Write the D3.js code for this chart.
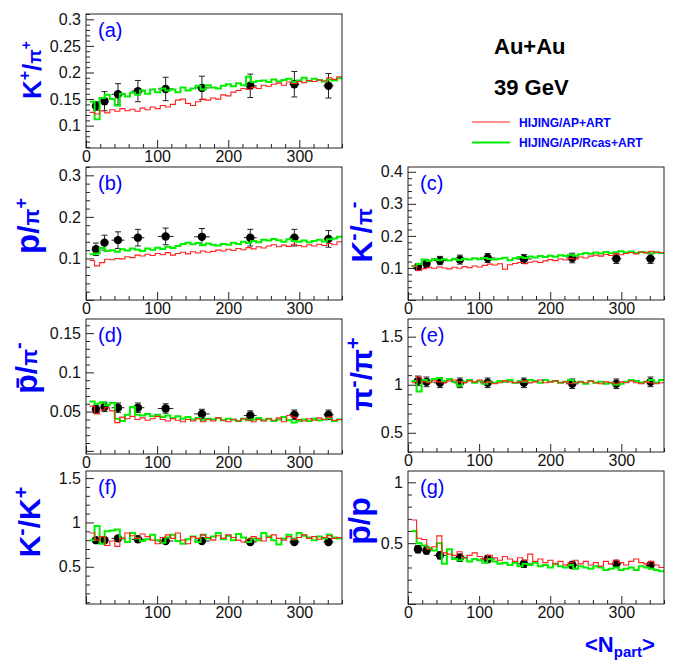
<!DOCTYPE html>
<html>
<head>
<meta charset="utf-8">
<script src="https://cdn.jsdelivr.net/npm/d3@7"></script>
<style>
  body { margin: 0; background: #fff; }
  svg { font-family: "Liberation Sans", Arial, sans-serif; }
</style>
</head>
<body>
<div class="container"></div>
<script>
// <Npart> of the measured points and their horizontal errors
const npart = [14, 26, 45, 73, 112, 163, 231, 293, 341];
const npartErr = [4, 5, 9, 9, 11, 11, 9, 7, 7];

// measured ratios (points) and their errors
const kpPipData = [0.137, 0.146, 0.159, 0.165, 0.169, 0.171, 0.175, 0.178, 0.175];
const kpPipErr = [0.008, 0.018, 0.02, 0.02, 0.022, 0.022, 0.022, 0.024, 0.023];
const pPipData = [0.122, 0.138, 0.144, 0.150, 0.153, 0.152, 0.150, 0.150, 0.147];
const pPipErr = [0.015, 0.018, 0.02, 0.02, 0.02, 0.02, 0.02, 0.02, 0.02];
const kmPimData = [0.103, 0.113, 0.123, 0.126, 0.131, 0.128, 0.131, 0.129, 0.129];
const kmPimErr = [0.01, 0.012, 0.013, 0.014, 0.014, 0.014, 0.015, 0.015, 0.015];
const pbarPimData = [0.053, 0.056, 0.055, 0.055, 0.054, 0.047, 0.045, 0.046, 0.046];
const pbarPimErr = [0.005, 0.006, 0.006, 0.006, 0.006, 0.006, 0.006, 0.006, 0.006];
const pimPipData = [1.04, 1.03, 1.02, 1.02, 1.02, 1.02, 1.01, 1.01, 1.03];
const pimPipErr = [0.05, 0.05, 0.05, 0.05, 0.05, 0.05, 0.05, 0.05, 0.05];
const kmKpData = [0.80, 0.80, 0.82, 0.81, 0.79, 0.79, 0.78, 0.78, 0.78];
const kmKpErr = [0.02, 0.02, 0.02, 0.02, 0.02, 0.02, 0.02, 0.02, 0.02];
const pbarPData = [0.45, 0.44, 0.40, 0.38, 0.37, 0.33, 0.32, 0.33, 0.32];
const pbarPErr = [0.03, 0.03, 0.03, 0.03, 0.03, 0.03, 0.03, 0.03, 0.02];

// model histograms, 50 bins in <Npart> starting at 5
const binLow = 5;
const binWidth = 7.1;

const kpPipArt = [0.125,0.122,0.128,0.124,0.130,0.127,0.132,0.128,0.131,0.127,
  0.133,0.130,0.135,0.132,0.138,0.135,0.140,0.148,0.150,0.142,
  0.138,0.145,0.150,0.148,0.152,0.150,0.158,0.156,0.163,0.166,
  0.170,0.168,0.172,0.170,0.176,0.174,0.178,0.180,0.176,0.182,
  0.179,0.183,0.181,0.185,0.183,0.186,0.184,0.190,0.187,0.192];
const kpPipRcas = [0.145,0.112,0.152,0.158,0.150,0.138,0.160,0.155,0.162,0.158,
  0.166,0.160,0.168,0.163,0.170,0.166,0.168,0.163,0.172,0.166,
  0.170,0.175,0.168,0.176,0.172,0.170,0.175,0.178,0.174,0.180,
  0.176,0.192,0.182,0.184,0.185,0.182,0.187,0.183,0.186,0.188,
  0.182,0.185,0.190,0.184,0.188,0.186,0.183,0.187,0.185,0.189];

const pPipArt = [0.095,0.082,0.090,0.098,0.097,0.100,0.099,0.104,0.102,0.108,
  0.106,0.110,0.107,0.112,0.109,0.114,0.108,0.112,0.115,0.111,
  0.116,0.113,0.118,0.115,0.117,0.120,0.118,0.122,0.119,0.124,
  0.121,0.126,0.123,0.128,0.125,0.130,0.133,0.128,0.132,0.129,
  0.134,0.131,0.128,0.133,0.130,0.134,0.131,0.136,0.133,0.140];
const pPipRcas = [0.110,0.112,0.125,0.118,0.120,0.116,0.122,0.119,0.124,0.121,
  0.118,0.124,0.121,0.126,0.123,0.128,0.125,0.130,0.135,0.138,
  0.134,0.137,0.132,0.136,0.133,0.131,0.135,0.133,0.138,0.135,
  0.140,0.137,0.142,0.139,0.145,0.143,0.147,0.144,0.140,0.146,
  0.142,0.140,0.143,0.139,0.142,0.145,0.141,0.146,0.148,0.152];

const kmPimArt = [0.106,0.092,0.098,0.102,0.099,0.103,0.100,0.097,0.102,0.099,
  0.104,0.101,0.106,0.103,0.108,0.112,0.109,0.113,0.096,0.110,
  0.114,0.117,0.113,0.118,0.121,0.117,0.122,0.126,0.123,0.128,
  0.125,0.130,0.128,0.134,0.131,0.137,0.140,0.137,0.142,0.139,
  0.144,0.141,0.145,0.148,0.144,0.150,0.147,0.152,0.149,0.148];
const kmPimRcas = [0.105,0.112,0.126,0.122,0.128,0.124,0.127,0.123,0.129,0.125,
  0.128,0.126,0.130,0.127,0.131,0.128,0.126,0.129,0.132,0.124,
  0.130,0.134,0.131,0.136,0.133,0.137,0.134,0.138,0.135,0.140,
  0.137,0.141,0.138,0.143,0.147,0.144,0.148,0.145,0.150,0.146,
  0.149,0.152,0.148,0.151,0.147,0.150,0.148,0.146,0.149,0.147];

const pbarPimArt = [0.057,0.047,0.052,0.055,0.051,0.036,0.043,0.041,0.044,0.040,
  0.042,0.039,0.041,0.044,0.040,0.038,0.041,0.039,0.037,0.040,
  0.038,0.041,0.037,0.040,0.038,0.042,0.039,0.037,0.040,0.038,
  0.041,0.039,0.037,0.040,0.038,0.041,0.039,0.042,0.037,0.045,
  0.043,0.040,0.038,0.041,0.039,0.042,0.040,0.043,0.039,0.040];
const pbarPimRcas = [0.063,0.060,0.062,0.058,0.061,0.041,0.038,0.046,0.056,0.046,
  0.045,0.047,0.044,0.046,0.043,0.045,0.042,0.044,0.041,0.043,
  0.040,0.042,0.039,0.041,0.040,0.042,0.039,0.041,0.040,0.038,
  0.041,0.039,0.040,0.042,0.039,0.041,0.038,0.040,0.043,0.039,
  0.036,0.038,0.040,0.038,0.041,0.039,0.040,0.042,0.038,0.040];

const pimPipArt = [1.02,1.08,1.03,1.02,1.04,1.03,1.02,1.04,1.05,1.03,
  1.02,1.04,1.03,1.05,1.02,1.03,1.01,1.02,1.04,1.03,
  1.02,1.03,1.04,1.02,1.03,1.05,1.02,1.03,1.04,1.02,
  1.03,1.01,1.02,1.03,1.02,1.04,1.02,1.01,1.03,1.02,
  1.01,1.03,1.02,1.04,1.02,1.01,1.03,1.02,1.01,1.02];
const pimPipRcas = [1.04,0.93,1.05,1.03,1.06,1.07,1.04,1.06,1.03,0.99,
  1.03,1.05,1.02,1.04,1.01,1.03,1.02,1.04,1.03,1.05,
  1.02,1.04,1.03,1.05,1.04,1.02,1.05,1.03,1.04,1.02,
  1.03,1.05,1.02,1.03,1.01,1.04,1.02,1.03,1.01,1.02,
  1.00,1.01,1.03,1.05,1.04,1.02,1.03,1.05,1.02,1.05];

const kmKpArt = [0.88,0.80,0.84,0.74,0.79,0.73,0.82,0.88,0.85,0.82,
  0.87,0.84,0.80,0.76,0.83,0.86,0.82,0.88,0.80,0.76,
  0.84,0.82,0.86,0.83,0.80,0.85,0.82,0.86,0.83,0.80,
  0.78,0.81,0.84,0.82,0.79,0.83,0.86,0.82,0.80,0.84,
  0.81,0.83,0.86,0.82,0.84,0.81,0.83,0.85,0.82,0.83];
const kmKpRcas = [0.80,0.96,0.76,0.90,0.91,0.92,0.82,0.78,0.88,0.82,
  0.79,0.81,0.86,0.80,0.77,0.83,0.86,0.79,0.76,0.81,
  0.84,0.78,0.86,0.82,0.84,0.88,0.81,0.85,0.80,0.87,
  0.83,0.78,0.82,0.80,0.88,0.84,0.80,0.75,0.82,0.86,
  0.81,0.88,0.85,0.83,0.80,0.84,0.82,0.86,0.83,0.82];

const pbarPArt = [0.69,0.54,0.53,0.45,0.47,0.56,0.42,0.41,0.40,0.43,
  0.38,0.40,0.42,0.39,0.37,0.40,0.38,0.36,0.39,0.37,
  0.35,0.38,0.36,0.41,0.35,0.37,0.34,0.36,0.33,0.35,
  0.32,0.34,0.36,0.33,0.35,0.32,0.34,0.31,0.35,0.33,
  0.36,0.34,0.32,0.35,0.37,0.34,0.33,0.35,0.32,0.30];
const pbarPRcas = [0.60,0.50,0.48,0.46,0.44,0.50,0.33,0.45,0.37,0.36,
  0.38,0.35,0.37,0.36,0.34,0.37,0.35,0.33,0.34,0.32,
  0.34,0.31,0.33,0.32,0.34,0.31,0.32,0.30,0.33,0.31,
  0.30,0.32,0.29,0.31,0.30,0.29,0.31,0.30,0.28,0.29,
  0.30,0.28,0.29,0.30,0.28,0.31,0.30,0.29,0.28,0.27];

const legendLabels = ['HIJING/AP+ART', 'HIJING/AP/Rcas+ART'];

const blue = '#0000ff';
const artColor = '#ff2020';
const rcasColor = '#00f000';

// title pieces: [text, font size, rise]; p\u0304 is p-bar
const panels = [
  { id: 'a', left: 86, top: 14, h: 134, ydom: [0.058, 0.31], major: 0.05, minor: 0.01,
    data: kpPipData, err: kpPipErr, art: kpPipArt, rcas: kpPipRcas, tx: 41, ty: 70,
    title: [['K', 26, 0], ['+', 16, -11], ['/', 26, 0], ['\u03c0', 19, 0], ['+', 14, -10]] },
  { id: 'b', left: 86, top: 167, h: 133, ydom: [0, 0.32], major: 0.1, minor: 0.02,
    data: pPipData, err: pPipErr, art: pPipArt, rcas: pPipRcas, tx: 39, ty: 226,
    title: [['p', 33, 0], ['/', 30, 0], ['\u03c0', 22, 0], ['+', 18, -12]] },
  { id: 'c', left: 408, top: 167, h: 133, ydom: [0, 0.415], major: 0.1, minor: 0.02,
    data: kmPimData, err: kmPimErr, art: kmPimArt, rcas: kmPimRcas, tx: 372, ty: 232,
    title: [['K', 30, 0], ['-', 22, -12], ['/', 30, 0], ['\u03c0', 22, 0], ['-', 20, -12]] },
  { id: 'd', left: 86, top: 319, h: 135, ydom: [-0.004, 0.168], major: 0.05, minor: 0.01,
    data: pbarPimData, err: pbarPimErr, art: pbarPimArt, rcas: pbarPimRcas, tx: 37, ty: 368,
    title: [['p\u0304', 32, 0], ['/', 30, 0], ['\u03c0', 22, 0], ['-', 20, -12]] },
  { id: 'e', left: 408, top: 319, h: 133, ydom: [0.3, 1.684], major: 0.5, minor: 0.1,
    data: pimPipData, err: pimPipErr, art: pimPipArt, rcas: pimPipRcas, tx: 372, ty: 374,
    title: [['\u03c0', 30, 0], ['-', 22, -12], ['/', 30, 0], ['\u03c0', 30, 0], ['+', 20, -12]] },
  { id: 'f', left: 86, top: 471, h: 133, ydom: [0.08, 1.58], major: 0.5, minor: 0.1,
    data: kmKpData, err: kmKpErr, art: kmKpArt, rcas: kmKpRcas, tx: 40, ty: 522, noZero: true,
    title: [['K', 30, 0], ['-', 22, -12], ['/', 30, 0], ['K', 30, 0], ['+', 20, -12]] },
  { id: 'g', left: 408, top: 471, h: 133, ydom: [0, 1.093], major: 0.5, minor: 0.1,
    data: pbarPData, err: pbarPErr, art: pbarPArt, rcas: pbarPRcas, tx: 370, ty: 521,
    title: [['p\u0304', 32, 0], ['/', 30, 0], ['p', 32, 0]] },
];

const W = 683, H = 663, pw = 256;

const svg = d3.select('.container').append('svg')
  .attr('width', W)
  .attr('height', H);
svg.append('rect').attr('width', W).attr('height', H).attr('fill', '#fff');

const fmt = d => (Math.abs(d) < 1e-6 ? '' : String(+d.toFixed(3)));
const steps = (lo, hi, step) => d3.range(Math.ceil(lo / step - 1e-6), Math.floor(hi / step + 1e-6) + 1)
  .map(i => +(i * step).toFixed(4));

panels.forEach((p) => {
  const x = d3.scaleLinear().domain([0, 360]).range([0, pw]);
  const y = d3.scaleLinear().domain(p.ydom).range([p.h, 0]);

  const g = svg.append('g').attr('transform', `translate(${p.left},${p.top})`);

  g.append('clipPath').attr('id', `clip-${p.id}`)
    .append('rect').attr('width', pw).attr('height', p.h);

  // minor ticks then major ticks, pointing into the frame
  const yMajor = steps(p.ydom[0], p.ydom[1], p.major);
  const yMinor = steps(p.ydom[0], p.ydom[1], p.minor).filter(v => !yMajor.some(m => Math.abs(m - v) < 1e-6));
  g.append('g').call(d3.axisLeft(y).tickValues(yMinor).tickSize(-4).tickFormat(''));
  g.append('g').call(d3.axisLeft(y).tickValues(yMajor).tickSize(-8).tickPadding(5).tickFormat(fmt));

  const xMajor = [0, 100, 200, 300];
  const xMinor = d3.range(0, 361, 20).filter(v => v % 100 !== 0);
  g.append('g').attr('transform', `translate(0,${p.h})`)
    .call(d3.axisBottom(x).tickValues(xMinor).tickSize(-4).tickFormat(''));
  g.append('g').attr('transform', `translate(0,${p.h})`)
    .call(d3.axisBottom(x).tickValues(xMajor).tickSize(-8).tickPadding(3)
      .tickFormat(d => (p.noZero && d === 0 ? '' : d)));

  g.selectAll('.domain').remove();
  g.selectAll('.tick line').attr('stroke', '#222');
  g.selectAll('.tick text').attr('font-size', 16).attr('fill', '#111')
    .attr('font-family', '"Liberation Sans", Arial, sans-serif');

  const plot = g.append('g').attr('clip-path', `url(#clip-${p.id})`);

  // data points with error bars
  const pts = plot.selectAll('.pt').data(npart.map((n, i) => ({
    n, ne: npartErr[i], v: p.data[i], e: p.err[i],
  }))).enter().append('g');
  pts.append('line')
    .attr('x1', d => x(d.n - d.ne)).attr('x2', d => x(d.n + d.ne))
    .attr('y1', d => y(d.v)).attr('y2', d => y(d.v))
    .attr('stroke', '#222');
  pts.append('line')
    .attr('x1', d => x(d.n)).attr('x2', d => x(d.n))
    .attr('y1', d => y(d.v - d.e)).attr('y2', d => y(d.v + d.e))
    .attr('stroke', '#222');
  [-1, 1].forEach((s) => {
    pts.append('line')
      .attr('x1', d => x(d.n) - 3).attr('x2', d => x(d.n) + 3)
      .attr('y1', d => y(d.v + s * d.e)).attr('y2', d => y(d.v + s * d.e))
      .attr('stroke', '#222');
  });
  pts.append('circle')
    .attr('cx', d => x(d.n)).attr('cy', d => y(d.v))
    .attr('r', 4.2).attr('fill', '#000');

  // model histograms as step lines
  const histo = vals => vals.map((v, i) => [binLow + i * binWidth, v])
    .concat([[binLow + vals.length * binWidth, vals[vals.length - 1]]]);
  const step = d3.line().x(d => x(d[0])).y(d => y(d[1])).curve(d3.curveStepAfter);

  plot.append('path').datum(histo(p.rcas))
    .attr('d', step).attr('fill', 'none')
    .attr('stroke', rcasColor).attr('stroke-width', 2);
  plot.append('path').datum(histo(p.art))
    .attr('d', step).attr('fill', 'none')
    .attr('stroke', artColor).attr('stroke-width', 1.1);

  // frame
  g.append('rect').attr('width', pw).attr('height', p.h)
    .attr('fill', 'none').attr('stroke', '#222').attr('stroke-width', 1);

  // panel letter
  g.append('text').attr('x', 12).attr('y', 23)
    .attr('font-size', 20).attr('fill', blue)
    .text(`(${p.id})`);

  // y title, rotated
  const t = svg.append('text')
    .attr('transform', `translate(${p.tx},${p.ty}) rotate(-90)`)
    .attr('text-anchor', 'middle')
    .attr('font-weight', 'bold')
    .attr('fill', blue);
  let shift = 0;
  p.title.forEach(([s, size, rise]) => {
    t.append('tspan')
      .attr('font-size', size)
      .attr('dy', rise - shift)
      .text(s);
    shift = rise;
  });
});

// system label
svg.append('text').attr('x', 494).attr('y', 54)
  .attr('font-size', 22).attr('font-weight', 'bold').attr('fill', '#000')
  .text('Au+Au');
svg.append('text').attr('x', 494).attr('y', 95)
  .attr('font-size', 22).attr('font-weight', 'bold').attr('fill', '#000')
  .text('39 GeV');

// legend
const legend = svg.append('g');
[[artColor, 1.1], [rcasColor, 2]].forEach(([c, w], i) => {
  const ly = 122 + i * 20.5;
  legend.append('line').attr('x1', 472).attr('x2', 510)
    .attr('y1', ly).attr('y2', ly)
    .attr('stroke', c).attr('stroke-width', w);
  legend.append('text').attr('x', 519).attr('y', ly + 4.5)
    .attr('font-size', 12).attr('font-weight', 'bold').attr('fill', blue)
    .text(legendLabels[i]);
});

// x title
const xt = svg.append('text').attr('x', 585).attr('y', 652)
  .attr('font-weight', 'bold').attr('fill', blue);
xt.append('tspan').attr('font-size', 22).text('<N');
xt.append('tspan').attr('font-size', 15).attr('dy', 5).text('part');
xt.append('tspan').attr('font-size', 22).attr('dy', -5).text('>');
</script>
</body>
</html>
